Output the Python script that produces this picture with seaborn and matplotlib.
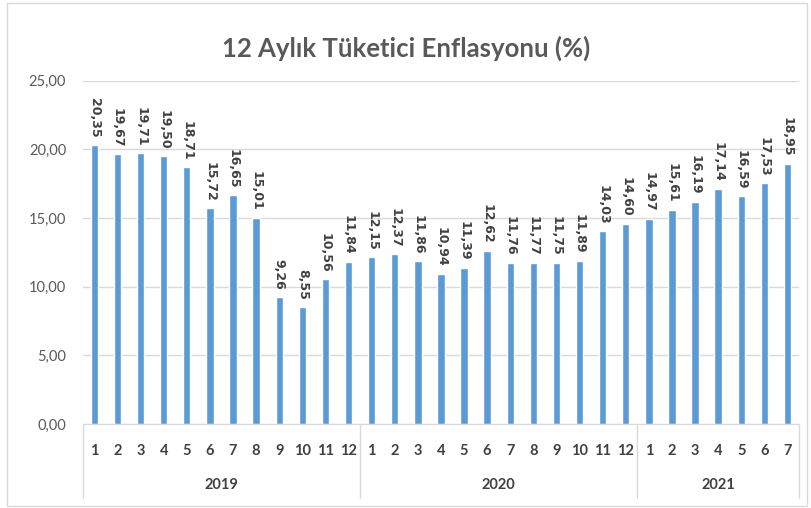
import pandas as pd
import matplotlib.pyplot as plt
import matplotlib.transforms as mtransforms
from matplotlib.patches import Rectangle
import seaborn as sns

# Yearly groups and monthly values (12-month CPI, %)
years = ['2019', '2020', '2021']
months_per_year = [12, 12, 7]
values_2019 = [20.35, 19.67, 19.71, 19.50, 18.71, 15.72, 16.65, 15.01, 9.26, 8.55, 10.56, 11.84]
values_2020 = [12.15, 12.37, 11.86, 10.94, 11.39, 12.62, 11.76, 11.77, 11.75, 11.89, 14.03, 14.60]
values_2021 = [14.97, 15.61, 16.19, 17.14, 16.59, 17.53, 18.95]

values = values_2019 + values_2020 + values_2021
month_labels = [str(m) for n in months_per_year for m in range(1, n + 1)]
df = pd.DataFrame({'idx': range(len(values)), 'value': values})

sns.set_style('white')
plt.rcParams['font.family'] = ['Lato', 'DejaVu Sans']

fig = plt.figure(figsize=(8.12, 5.08), dpi=100)
ax = fig.add_axes([0.102, 0.165, 0.882, 0.676])

sns.barplot(data=df, x='idx', y='value', color='#5B9BD5', saturation=1,
            width=0.32, ax=ax)

ax.set_ylim(0, 25)
ax.set_xlim(-0.5, len(values) - 0.5)
ax.set_yticks([0, 5, 10, 15, 20, 25])
ax.set_yticklabels([f'{v:.2f}'.replace('.', ',') for v in [0, 5, 10, 15, 20, 25]],
                   color='#595959', fontsize=10.5)
ax.set_xticks(range(len(values)))
ax.set_xticklabels(month_labels, color='#404040', fontsize=10.5, fontweight='bold')
ax.tick_params(axis='both', length=0)
ax.tick_params(axis='x', pad=14)
ax.tick_params(axis='y', pad=12)
ax.set_xlabel('')
ax.set_ylabel('')
ax.yaxis.grid(True, color='#D9D9D9', linewidth=1)
ax.set_axisbelow(True)
for s in ['top', 'right', 'left']:
    ax.spines[s].set_visible(False)
ax.spines['bottom'].set_color('#D9D9D9')

# data labels
ax.bar_label(ax.containers[0], labels=[f'{v:.2f}'.replace('.', ',') for v in values],
             rotation=270, padding=5, fontsize=9, fontweight='bold',
             color='#404040', family='DejaVu Sans')

# year group labels and separators
trans = mtransforms.blended_transform_factory(ax.transData, ax.transAxes)
start = -0.5
ax.plot([start, start], [0, -0.215], transform=trans, color='#D9D9D9', lw=1, clip_on=False)
for year, n in zip(years, months_per_year):
    end = start + n
    ax.plot([end, end], [0, -0.215], transform=trans, color='#D9D9D9', lw=1, clip_on=False)
    ax.text((start + end) / 2, -0.178, year, transform=trans, ha='center', va='center',
            fontsize=10.5, fontweight='bold', color='#404040')
    start = end

fig.suptitle('12 Aylık Tüketici Enflasyonu (%)', y=0.93, fontsize=18.5,
             color='#595959', fontweight='bold')

fig.patches.append(Rectangle((0.009, 0.004), 0.985, 0.99, transform=fig.transFigure,
                             fill=False, edgecolor='#D9D9D9', linewidth=1))

fig.savefig('out.png', dpi=100)
